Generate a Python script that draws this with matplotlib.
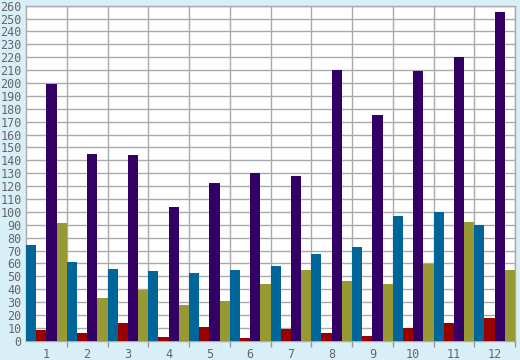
import numpy as np
import matplotlib.pyplot as plt

months = ["1", "2", "3", "4", "5", "6", "7", "8", "9", "10", "11", "12"]
blue_vals = [74, 61, 56, 54, 52.5, 55, 58, 67, 72.5, 96.5, 99.5, 89.5]
red_vals = [8, 6, 13.5, 3, 10.5, 2, 9, 6, 3.5, 10, 13.5, 17.5]
purple_vals = [199.5, 145, 144, 103.5, 122.5, 130, 127.5, 210, 175.5, 209.5, 220, 255]
olive_vals = [91.5, 33.5, 39.5, 27.5, 30.5, 44, 55, 46, 44, 59.5, 92.5, 55]

series = [blue_vals, red_vals, purple_vals, olive_vals]
colors = ["#006699", "#990000", "#330066", "#999933"]

fig = plt.figure(figsize=(5.2, 3.6), dpi=100)
fig.patch.set_facecolor("#d9eff7")
ax = fig.add_axes([26 / 520, 19.3 / 360, 489 / 520, 335 / 360])
ax.set_facecolor("white")

x = np.arange(len(months))
w = 0.25
for j, vals in enumerate(series):
    ax.bar(x + w / 2 + j * w, vals, width=w, color=colors[j], zorder=3, linewidth=0)

ax.set_xlim(0, 12)
ax.set_ylim(0, 260)

# group boundaries carry the grid and tick marks, labels sit in the middle
ax.set_xticks(np.arange(1, 13))
ax.set_xticklabels([])
ax.set_xticks(x + 0.5, minor=True)
ax.set_xticklabels(months, minor=True, family="DejaVu Sans Mono", fontsize=8.5, color="#666666")
ax.tick_params(axis="x", which="major", direction="out", length=4, color="#999999", width=1)
ax.tick_params(axis="x", which="minor", length=0, pad=5)

ax.set_yticks(np.arange(0, 261, 10))
ax.set_yticklabels([str(v) for v in range(0, 261, 10)], family="DejaVu Sans Mono",
                   fontsize=8.5, color="#666666")
ax.tick_params(axis="y", length=0, pad=3)

ax.grid(True, which="major", color="#aaaaaa", linewidth=1, zorder=0)
ax.set_axisbelow(True)
for s in ax.spines.values():
    s.set_color("#aaaaaa")
    s.set_linewidth(1)

fig.savefig("out.png", dpi=100, facecolor=fig.get_facecolor())
